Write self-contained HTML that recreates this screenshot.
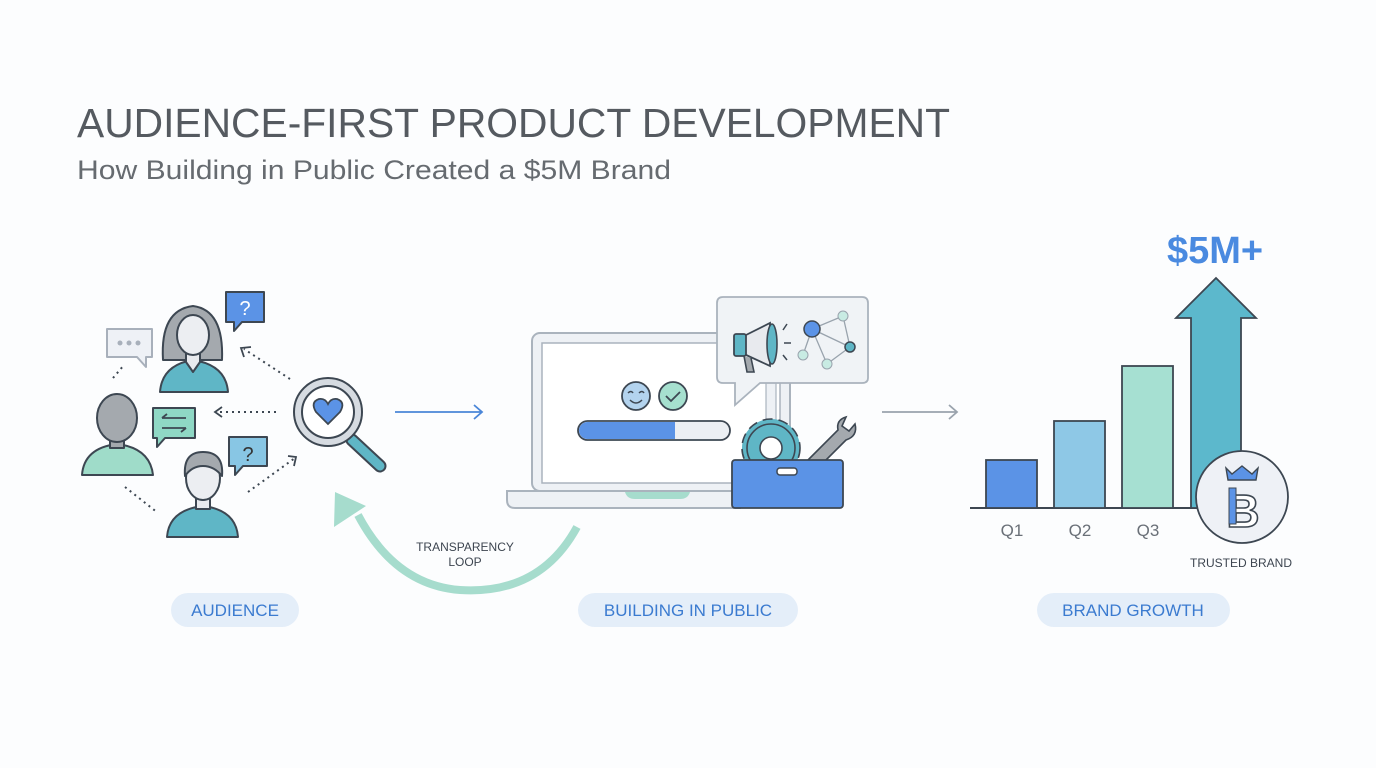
<!DOCTYPE html>
<html><head><meta charset="utf-8"><style>
html,body{margin:0;padding:0;background:#fcfdfe;}
svg{display:block;font-family:"Liberation Sans",sans-serif;}
</style></head><body>
<svg width="1376" height="768" viewBox="0 0 1376 768" xmlns="http://www.w3.org/2000/svg">
<rect width="1376" height="768" fill="#fcfdfe"/>
<text x="77" y="137" font-size="41" fill="#555a60" textLength="873" lengthAdjust="spacingAndGlyphs">AUDIENCE-FIRST PRODUCT DEVELOPMENT</text>
<text x="77" y="179" font-size="27" fill="#666b70" textLength="594" lengthAdjust="spacingAndGlyphs">How Building in Public Created a $5M Brand</text>

<g stroke="#3d4752" stroke-width="2" stroke-linejoin="round">
<path d="M163 360 Q160 310 193 306 Q224 310 222 360 Z" fill="#a4a9ae"/>
<path d="M160 392 Q162 365 193 360 Q226 365 228 392 Z" fill="#5fb6c6"/>
<path d="M186 352 L186 362 L193 372 L200 362 L200 352 Z" fill="#e8eaee"/>
<ellipse cx="193" cy="335" rx="16" ry="20" fill="#eceef2"/>
<path d="M82 475 Q84 448 117 444 Q150 448 153 475 Z" fill="#9fdcc9"/>
<rect x="110" y="432" width="14" height="16" fill="#a4a9ae"/>
<ellipse cx="117" cy="418" rx="20" ry="24" fill="#a4a9ae"/>
<path d="M167 537 Q169 510 203 506 Q236 510 238 537 Z" fill="#5fb6c6"/>
<rect x="196" y="494" width="14" height="15" fill="#e8eaee"/>
<ellipse cx="203" cy="478" rx="17" ry="22" fill="#eceef2"/>
<path d="M185 476 Q183 452 203 452 Q224 452 222 476 Q214 466 203 466 Q192 466 185 476Z" fill="#a4a9ae"/>
<path d="M226 292 h38 v30 h-22 l-8 9 v-9 h-8 z" fill="#5b93e6"/>
<path d="M107 329 h45 v28 h-6 l0 10 -9 -10 h-30 z" fill="#eef1f6" stroke="#a8b0bb"/>
<path d="M153 408 h42 v30 h-30 l-8 9 v-9 h-4 z" fill="#8fd8c5"/>
<path d="M229 437 h38 v29 h-24 l-8 9 v-9 h-6 z" fill="#88c6e4"/>
</g>
<text x="245" y="315" font-size="20" fill="#fff" text-anchor="middle">?</text>
<text x="248" y="461" font-size="20" fill="#333" text-anchor="middle">?</text>
<g fill="#a8b0bb"><circle cx="120" cy="343" r="2.5"/><circle cx="129" cy="343" r="2.5"/><circle cx="138" cy="343" r="2.5"/></g>
<path d="M162 418 h24 M162 418 l5 -4 M186 428 h-24 M186 428 l-5 4" stroke="#3d4752" stroke-width="1.8" fill="none"/>
<g stroke="#3d4752" stroke-width="2" stroke-dasharray="2 4" fill="none">
<path d="M290 379 L244 349"/><path d="M276 412 H216"/><path d="M248 492 L295 458"/>
<path d="M113 378 L124 365"/><path d="M125 487 L158 513"/>
</g>
<g stroke="#3d4752" stroke-width="1.8" fill="none"><path d="M244 357 L241 348 L251 347"/><path d="M222 407 L215 412 L222 417"/><path d="M288 456 L296 457 L294 466"/></g>
<path d="M352 440 L380 466" stroke="#3d4752" stroke-width="13" stroke-linecap="round"/>
<path d="M352 440 L380 466" stroke="#5fb6c6" stroke-width="9" stroke-linecap="round"/>
<circle cx="328" cy="412" r="34" fill="#d6dbe1" stroke="#3d4752" stroke-width="2"/>
<circle cx="328" cy="412" r="26" fill="#fff" stroke="#3d4752" stroke-width="2"/>
<path d="M328 424 L316 412 Q310 402 319 399 Q325 398 328 404 Q331 398 337 399 Q346 402 340 412 Z" fill="#5b93e6" stroke="#3d4752" stroke-width="1.8"/>
<path d="M395 412 H482 M474 405 L482 412 L474 419" stroke="#4a86d8" stroke-width="1.8" fill="none"/>
<path d="M882 412 H957 M949 405 L957 412 L949 419" stroke="#9aa3ad" stroke-width="1.8" fill="none"/>

<rect x="532" y="333" width="258" height="158" rx="8" fill="#eef1f5" stroke="#aab3bd" stroke-width="2"/>
<rect x="542" y="343" width="238" height="140" fill="#fff" stroke="#aab3bd" stroke-width="1.5"/>
<path d="M507 491 H740 V508 H515 Q507 508 507 500 Z" fill="#eef1f5" stroke="#aab3bd" stroke-width="2"/>
<path d="M625 492 H690 Q688 499 680 499 H635 Q627 499 625 492Z" fill="#a6dccd"/>
<circle cx="636" cy="396" r="14" fill="#b3d3ee" stroke="#3d4752" stroke-width="1.8"/>
<path d="M628 393 q3 -3 5 0 M639 393 q3 -3 5 0 M630 400 q6 6 12 0" stroke="#3d4752" stroke-width="1.5" fill="none"/>
<circle cx="673" cy="396" r="14" fill="#a6e0cf" stroke="#3d4752" stroke-width="1.8"/>
<path d="M666 396 l5 5 9 -9" stroke="#3d4752" stroke-width="1.8" fill="none"/>
<path d="M587.5 422 H675 V439 H587.5 A8.5 8.5 0 0 1 587.5 422Z" fill="#5b93e6"/>
<path d="M675 422 H720.5 A8.5 8.5 0 0 1 720.5 439 H675Z" fill="#eceff3"/>
<rect x="578" y="421" width="152" height="19" rx="9.5" fill="none" stroke="#3d4752" stroke-width="1.8"/>
<rect x="766" y="380" width="10" height="82" fill="#eef1f5" stroke="#aab3bd" stroke-width="1.2"/>
<path d="M723 297 H862 Q868 297 868 303 V378 Q868 383 862 383 H760 L735 405 V383 H723 Q717 383 717 377 V303 Q717 297 723 297Z" fill="#f0f3f6" stroke="#aab3bd" stroke-width="1.8"/>
<path d="M744 336 L770 323 V366 L744 354Z" fill="#e8eaee" stroke="#3d4752" stroke-width="1.8"/>
<rect x="734" y="334" width="12" height="22" rx="2" fill="#5fb6c6" stroke="#3d4752" stroke-width="1.8"/>
<path d="M744 356 l3 16 h7 l-3 -14" fill="#a4a9ae" stroke="#3d4752" stroke-width="1.6"/>
<ellipse cx="772" cy="344" rx="5" ry="20" fill="#5fb6c6" stroke="#3d4752" stroke-width="1.6"/>
<path d="M783 330 l4 -6 M784 343 h7 M783 355 l4 5" stroke="#3d4752" stroke-width="1.5"/>
<g stroke="#99a3ad" stroke-width="1.3" fill="none"><path d="M812 329 L843 316 L850 347 L827 364 L812 329 L850 347 M812 329 L803 355"/></g>
<circle cx="812" cy="329" r="8" fill="#5b93e6" stroke="#3d4752" stroke-width="1.5"/>
<circle cx="843" cy="316" r="5" fill="#c8ebe3" stroke="#99a3ad"/>
<circle cx="850" cy="347" r="5" fill="#5fb6c6" stroke="#3d4752" stroke-width="1.5"/>
<circle cx="827" cy="364" r="5" fill="#c8ebe3" stroke="#99a3ad"/>
<circle cx="803" cy="355" r="5" fill="#c8ebe3" stroke="#99a3ad"/>
<path d="M806 462 L838 430 Q836 420 846 417 L842 426 L849 431 L855 424 Q858 436 846 440 L814 472Z" fill="#a4a9ae" stroke="#3d4752" stroke-width="1.6"/>
<g transform="translate(771 448)">
<circle r="29" fill="#5fb6c6" stroke="#3d4752" stroke-width="1.6" stroke-dasharray="10 6"/>
<circle r="24" fill="#5fb6c6" stroke="#3d4752" stroke-width="1.6"/>
<circle r="11" fill="#fff" stroke="#3d4752" stroke-width="1.6"/>
</g>
<rect x="732" y="460" width="111" height="48" rx="3" fill="#5b93e6" stroke="#3d4752" stroke-width="1.8"/>
<rect x="777" y="468" width="20" height="7" rx="3" fill="#fff" stroke="#3d4752" stroke-width="1.5"/>

<path d="M577 527 Q540 595 460 590 Q395 585 358 515" stroke="#a6dccd" stroke-width="8" fill="none"/>
<path d="M335 492 L334 527 L366 506Z" fill="#a6dccd"/>
<text x="465" y="551" font-size="12" fill="#3d4550" text-anchor="middle">TRANSPARENCY</text>
<text x="465" y="566" font-size="12" fill="#3d4550" text-anchor="middle">LOOP</text>

<text x="1215" y="263" font-size="38" font-weight="bold" fill="#4a8ae0" text-anchor="middle">$5M+</text>
<path d="M970 508 H1200" stroke="#3d4752" stroke-width="2"/>
<g stroke="#3d4752" stroke-width="1.8">
<rect x="986" y="460" width="51" height="48" fill="#5b93e6"/>
<rect x="1054" y="421" width="51" height="87" fill="#8ec8e6"/>
<rect x="1122" y="366" width="51" height="142" fill="#a6e0d2"/>
<path d="M1191 508 V318 H1176 L1216 278 L1256 318 H1241 V508Z" fill="#5cb8cc"/>
</g>
<circle cx="1242" cy="497" r="46" fill="#eef1f6" stroke="#3d4752" stroke-width="1.8"/>
<path d="M1226 468 L1232 474 L1242 466 L1252 474 L1258 468 L1256 480 H1228Z" fill="#5b93e6" stroke="#3d4752" stroke-width="1.4"/>
<text x="1243" y="527" font-size="46" font-weight="bold" fill="#ffffff" stroke="#3d4752" stroke-width="1.6" text-anchor="middle">B</text>
<rect x="1229" y="488" width="7" height="36" fill="#5b93e6" stroke="#3d4752" stroke-width="1"/>
<g font-size="17" fill="#6a7078" text-anchor="middle"><text x="1012" y="536">Q1</text><text x="1080" y="536">Q2</text><text x="1148" y="536">Q3</text></g>
<text x="1241" y="567" font-size="12" fill="#3d4550" text-anchor="middle">TRUSTED BRAND</text>

<rect x="171" y="593" width="128" height="34" rx="17" fill="#e4eef9"/>
<text x="235" y="616" font-size="17" fill="#3b7bd0" text-anchor="middle">AUDIENCE</text>
<rect x="578" y="593" width="220" height="34" rx="17" fill="#e4eef9"/>
<text x="688" y="616" font-size="17" fill="#3b7bd0" text-anchor="middle">BUILDING IN PUBLIC</text>
<rect x="1037" y="593" width="193" height="34" rx="17" fill="#e4eef9"/>
<text x="1133" y="616" font-size="17" fill="#3b7bd0" text-anchor="middle">BRAND GROWTH</text>
</svg>
</body></html>
